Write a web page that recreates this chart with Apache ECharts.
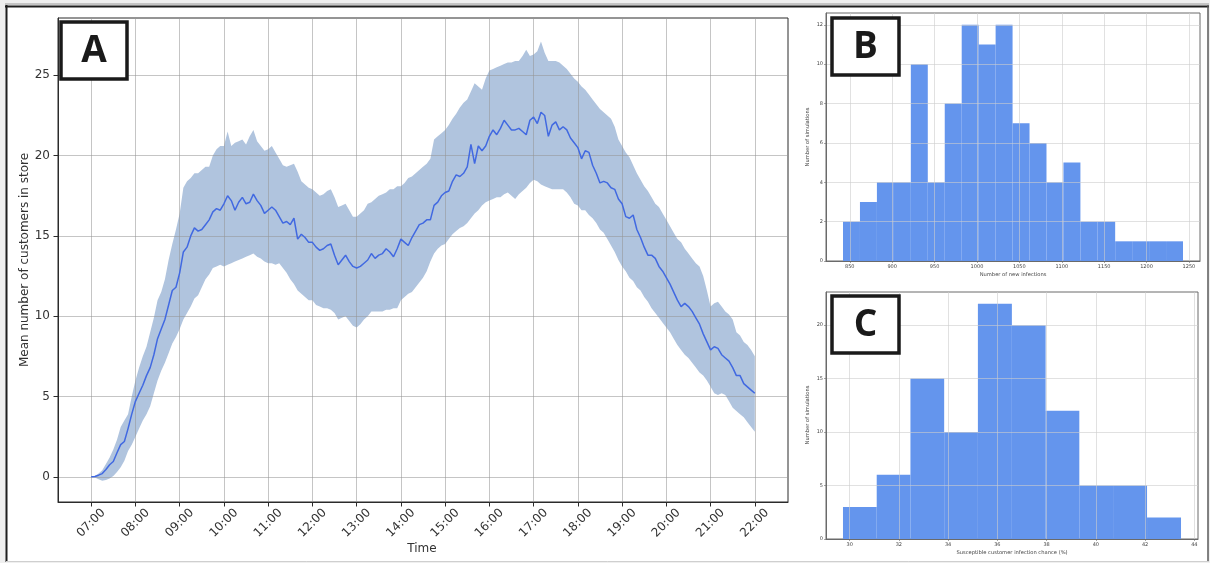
<!DOCTYPE html>
<html>
<head>
<meta charset="utf-8">
<script src="https://cdn.jsdelivr.net/npm/echarts@6/dist/echarts.min.js"></script>
<style>
  html, body { margin: 0; padding: 0; background: #efefef; }
  #chart { width: 1210px; height: 563px; }
</style>
</head>
<body>
<div id="chart"></div>
<script>
// ---- Panel A: mean customers in store, one sample every 5 minutes, 07:00 -> 22:00 ----
const START_HOUR = 7;
const STEP_MINUTES = 5;

const meanCustomers = [
  0.0, 0.02, 0.1, 0.2, 0.45, 0.75, 0.95, 1.5, 2.0, 2.2, 3.0, 3.9,
  4.7, 5.2, 5.7, 6.3, 6.8, 7.6, 8.6, 9.2, 9.8, 10.7, 11.6, 11.8,
  12.7, 14.0, 14.3, 15.0, 15.5, 15.3, 15.4, 15.7, 16.0, 16.5, 16.7, 16.6,
  17.0, 17.5, 17.2, 16.6, 17.1, 17.4, 17.0, 17.1, 17.6, 17.2, 16.9, 16.4,
  16.6, 16.8, 16.6, 16.2, 15.8, 15.9, 15.7, 16.1, 14.8, 15.1, 14.9, 14.6,
  14.6, 14.3, 14.1, 14.2, 14.4, 14.5, 13.8, 13.2, 13.5, 13.8, 13.4, 13.1,
  13.0, 13.1, 13.3, 13.5, 13.9, 13.6, 13.8, 13.9, 14.2, 14.0, 13.7, 14.2,
  14.8, 14.6, 14.4, 14.9, 15.3, 15.7, 15.8, 16.0, 16.0, 16.9, 17.1, 17.5,
  17.7, 17.8, 18.4, 18.8, 18.7, 18.9, 19.3, 20.7, 19.5, 20.6, 20.3, 20.6,
  21.2, 21.6, 21.3, 21.7, 22.2, 21.9, 21.6, 21.6, 21.7, 21.5, 21.3, 22.2,
  22.4, 22.0, 22.7, 22.5, 21.2, 21.9, 22.1, 21.6, 21.8, 21.6, 21.1, 20.8,
  20.5, 19.8, 20.3, 20.2, 19.4, 18.9, 18.3, 18.4, 18.3, 18.0, 17.9, 17.3,
  17.0, 16.2, 16.1, 16.3, 15.4, 14.9, 14.3, 13.8, 13.8, 13.6, 13.1, 12.8,
  12.4, 12.0, 11.5, 11.0, 10.6, 10.8, 10.6, 10.3, 9.9, 9.5, 8.9, 8.4,
  7.9, 8.1, 8.0, 7.6, 7.4, 7.2, 6.8, 6.3, 6.3, 5.8, 5.6, 5.4, 5.2
];

const upperBand = [
  0.0, 0.05, 0.2, 0.4, 0.8, 1.2, 1.7, 2.3, 3.1, 3.5, 3.9, 5.0,
  6.0, 6.8, 7.5, 8.1, 9.0, 9.9, 11.0, 11.5, 12.3, 13.5, 14.5, 15.4,
  16.4, 18.0, 18.4, 18.6, 18.9, 18.9, 19.1, 19.3, 19.3, 20.0, 20.4, 20.6,
  20.6, 21.5, 20.6, 20.8, 20.9, 21.0, 20.7, 21.2, 21.6, 20.9, 20.6, 20.3,
  20.4, 20.6, 20.2, 19.8, 19.4, 19.3, 19.4, 19.5, 19.0, 18.4, 18.2, 18.0,
  17.9, 17.7, 17.5, 17.6, 17.8, 17.9, 17.4, 16.8, 16.9, 17.0, 16.6, 16.2,
  16.2, 16.4, 16.6, 17.0, 17.1, 17.3, 17.5, 17.6, 17.7, 17.9, 17.9, 18.1,
  18.1, 18.3, 18.6, 18.7, 18.9, 19.1, 19.3, 19.5, 19.8, 21.0, 21.2, 21.4,
  21.6, 21.9, 22.3, 22.6, 23.0, 23.3, 23.5, 24.0, 24.5, 24.3, 24.1, 24.8,
  25.3, 25.4, 25.5, 25.6, 25.7, 25.8, 25.8, 25.9, 25.9, 26.2, 26.6, 26.2,
  26.3, 26.5, 27.1, 26.4, 25.9, 25.9, 25.9, 25.8, 25.6, 25.4, 25.1, 24.8,
  24.6, 24.3, 24.1, 23.8, 23.5, 23.2, 22.9, 22.7, 22.5, 22.3, 21.8, 21.0,
  20.6, 20.2, 19.9, 19.4, 18.9, 18.5, 18.1, 17.8, 17.4, 17.0, 16.8, 16.4,
  16.0, 15.6, 15.2, 14.8, 14.6, 14.2, 13.9, 13.6, 13.3, 13.1, 12.5, 11.6,
  10.6, 10.8, 10.9, 10.6, 10.3, 10.1, 9.8, 9.0, 8.8, 8.4, 8.2, 7.9, 7.5
];

const lowerBand = [
  0.0, -0.05, -0.15, -0.25, -0.2, -0.1, 0.05, 0.3, 0.6, 1.0, 1.6, 2.0,
  2.5, 3.0, 3.5, 3.9, 4.4, 5.2, 6.0, 6.6, 7.1, 7.7, 8.3, 8.7,
  9.2, 9.8, 10.2, 10.6, 11.1, 11.3, 11.8, 12.3, 12.6, 13.0, 13.1, 13.2,
  13.1, 13.2, 13.3, 13.4, 13.5, 13.6, 13.7, 13.8, 13.9, 13.7, 13.6, 13.4,
  13.3, 13.3, 13.2, 13.3, 13.0, 12.7, 12.3, 12.0, 11.6, 11.4, 11.2, 11.0,
  11.0, 10.7, 10.6, 10.5, 10.5, 10.4, 10.2, 9.8, 9.9, 10.0, 9.7, 9.4,
  9.3, 9.5, 9.8, 10.0, 10.3, 10.3, 10.3, 10.3, 10.4, 10.4, 10.5, 10.5,
  11.0, 11.2, 11.4, 11.5, 11.8, 12.1, 12.4, 12.8, 13.4, 13.9, 14.2, 14.4,
  14.5, 14.8, 15.1, 15.3, 15.5, 15.6, 15.8, 16.1, 16.4, 16.6, 16.9, 17.1,
  17.2, 17.3, 17.4, 17.4, 17.6, 17.7, 17.5, 17.3, 17.6, 17.8, 18.0, 18.3,
  18.5, 18.4, 18.2, 18.1, 18.0, 17.9, 17.9, 17.9, 17.9, 17.7, 17.4, 17.0,
  16.9, 16.6, 16.6, 16.3, 16.1, 15.8, 15.4, 15.2, 14.8, 14.4, 14.0, 13.5,
  13.1, 12.8, 12.4, 12.2, 11.8, 11.6, 11.2, 10.9, 10.5, 10.2, 9.9, 9.6,
  9.3, 9.0, 8.6, 8.2, 7.9, 7.6, 7.4, 7.1, 6.8, 6.5, 6.3, 6.0,
  5.6, 5.2, 5.1, 5.2, 5.1, 4.7, 4.3, 4.1, 3.9, 3.7, 3.4, 3.1, 2.8
];

const hourTicks = [7, 8, 9, 10, 11, 12, 13, 14, 15, 16, 17, 18, 19, 20, 21, 22];
const customerTicks = [0, 5, 10, 15, 20, 25];

// ---- Panel B: histogram of new infections per simulation ----
const infectionBinEdges = [842, 862, 882, 902, 922, 942, 962, 982, 1002, 1022, 1042,
  1062, 1082, 1102, 1122, 1142, 1163, 1183, 1203, 1223, 1243];
const infectionCounts = [2, 3, 4, 4, 10, 4, 8, 12, 11, 12, 7, 6, 4, 5, 2, 2, 1, 1, 1, 1];
const infectionTicks = [850, 900, 950, 1000, 1050, 1100, 1150, 1200, 1250];
const infectionCountTicks = [0, 2, 4, 6, 8, 10, 12];

// ---- Panel C: histogram of susceptible customer infection chance ----
const chanceBinEdges = [29.73, 31.10, 32.47, 33.84, 35.21, 36.59, 37.96, 39.33, 40.70, 42.08, 43.46];
const chanceCounts = [3, 6, 15, 10, 22, 20, 12, 5, 5, 2];
const chanceTicks = [30, 32, 34, 36, 38, 40, 42, 44];
const chanceCountTicks = [0, 5, 10, 15, 20];

// ------------------------------------------------------------------
const timeAt = i => START_HOUR + (i * STEP_MINUTES) / 60;
const hh = v => (v < 10 ? '0' : '') + v + ':00';

const BAR_BLUE = '#6495ED';
const BAND = '#B0C4DE';
const LINE_BLUE = '#4169E1';
const MPL_FONT = 'DejaVu Sans';

function smallAxis(gridIndex, min, max, ticks) {
  return {
    type: 'value', gridIndex, min, max, z: 3,
    axisLine: { show: true, onZero: false, lineStyle: { color: '#6a6a6a', width: 1 } },
    axisTick: { show: true, inside: false, length: 2, customValues: ticks,
      lineStyle: { color: '#6a6a6a', width: 0.6 } },
    axisLabel: { customValues: ticks, formatter: v => String(v),
      fontFamily: MPL_FONT, fontSize: 5, color: '#444', margin: 3 },
    splitLine: { show: true, lineStyle: { color: 'rgba(205,205,205,0.75)', width: 0.8 } }
  };
}

function histogram(edges, counts, axisIndex) {
  return {
    type: 'custom', xAxisIndex: axisIndex, yAxisIndex: axisIndex, z: 1,
    data: counts.map((c, i) => [edges[i], edges[i + 1], c]),
    encode: { x: [0, 1], y: 2 },
    renderItem(params, api) {
      const p0 = api.coord([api.value(0), 0]);
      const p1 = api.coord([api.value(1), api.value(2)]);
      return {
        type: 'rect',
        shape: { x: p0[0], y: p1[1], width: p1[0] - p0[0], height: p0[1] - p1[1] },
        style: { fill: BAR_BLUE }
      };
    }
  };
}

function letterBox(x, y, w, h, letter) {
  return [
    { type: 'rect', z: 100, shape: { x, y, width: w, height: h },
      style: { fill: '#fff', stroke: '#1a1a1a', lineWidth: 3.5 } },
    { type: 'text', z: 101, x: x + w / 2, y: y + h / 2 + 1,
      style: { text: letter, fontFamily: 'Open Sans', fontWeight: 'bold', fontSize: 37,
        fill: '#1a1a1a', align: 'center', verticalAlign: 'middle' } }
  ];
}

const option = {
  backgroundColor: '#efefef',
  animation: false,
  grid: [
    { left: 58, top: 18, width: 730, height: 484, show: true, backgroundColor: '#fff',
      borderColor: '#2b2b2b', borderWidth: 1, containLabel: false },
    { left: 826, top: 13, width: 374, height: 248, show: true, backgroundColor: '#fff',
      borderColor: '#6a6a6a', borderWidth: 1, containLabel: false },
    { left: 826, top: 292, width: 372, height: 247, show: true, backgroundColor: '#fff',
      borderColor: '#6a6a6a', borderWidth: 1, containLabel: false }
  ],
  xAxis: [
    {
      type: 'value', gridIndex: 0, min: 6.25, max: 22.75, z: 3,
      axisLine: { show: true, onZero: false, lineStyle: { color: '#2b2b2b', width: 1 } },
      axisTick: { show: true, inside: false, length: 4.5, customValues: hourTicks,
        lineStyle: { color: '#2b2b2b' } },
      axisLabel: { customValues: hourTicks, formatter: v => hh(v), rotate: 45,
        align: 'center', verticalAlign: 'middle', margin: 21,
        fontFamily: MPL_FONT, fontSize: 12, color: '#333' },
      splitLine: { show: true, lineStyle: { color: 'rgba(150,150,150,0.55)', width: 1 } }
    },
    smallAxis(1, 821.95, 1263.05, infectionTicks),
    smallAxis(2, 29.04, 44.15, chanceTicks)
  ],
  yAxis: [
    {
      type: 'value', gridIndex: 0, min: -1.57, max: 28.57, z: 3,
      axisLine: { show: true, onZero: false, lineStyle: { color: '#2b2b2b', width: 1 } },
      axisTick: { show: true, inside: false, length: 4.5, customValues: customerTicks,
        lineStyle: { color: '#2b2b2b' } },
      axisLabel: { customValues: customerTicks, margin: 8,
        fontFamily: MPL_FONT, fontSize: 12, color: '#333' },
      splitLine: { show: true, lineStyle: { color: 'rgba(150,150,150,0.55)', width: 1 } }
    },
    smallAxis(1, 0, 12.6, infectionCountTicks),
    smallAxis(2, 0, 23.1, chanceCountTicks)
  ],
  series: [
    {
      // spread band between lower and upper estimates
      type: 'custom', xAxisIndex: 0, yAxisIndex: 0, z: 1,
      data: [[START_HOUR, 0]],
      renderItem(params, api) {
        const pts = [];
        for (let i = 0; i < upperBand.length; i++) pts.push(api.coord([timeAt(i), upperBand[i]]));
        for (let i = lowerBand.length - 1; i >= 0; i--) pts.push(api.coord([timeAt(i), lowerBand[i]]));
        return { type: 'polygon', shape: { points: pts }, style: { fill: BAND } };
      }
    },
    {
      type: 'line', xAxisIndex: 0, yAxisIndex: 0, z: 5,
      data: meanCustomers.map((v, i) => [timeAt(i), v]),
      showSymbol: false, symbol: 'none',
      lineStyle: { color: LINE_BLUE, width: 1.5 }
    },
    histogram(infectionBinEdges, infectionCounts, 1),
    histogram(chanceBinEdges, chanceCounts, 2)
  ],
  graphic: [
    // figure frame
    { type: 'rect', z: -10, shape: { x: 7, y: 7, width: 1201, height: 554 }, style: { fill: '#fff' } },
    { type: 'line', z: 50, shape: { x1: 5, y1: 4, x2: 1209, y2: 4 }, style: { stroke: '#9a9a9a', lineWidth: 1 } },
    { type: 'line', z: 50, shape: { x1: 5, y1: 6.5, x2: 1209, y2: 6.5 }, style: { stroke: '#1e1e1e', lineWidth: 2 } },
    { type: 'line', z: 50, shape: { x1: 6.5, y1: 5, x2: 6.5, y2: 562 }, style: { stroke: '#1e1e1e', lineWidth: 2 } },
    { type: 'line', z: 50, shape: { x1: 1208, y1: 5, x2: 1208, y2: 562 }, style: { stroke: '#5a5a5a', lineWidth: 1.5 } },
    { type: 'line', z: 50, shape: { x1: 6, y1: 561.5, x2: 1209, y2: 561.5 }, style: { stroke: '#cfcfcf', lineWidth: 1 } },

    // axis titles
    { type: 'text', z: 60, x: 25, y: 260, rotation: Math.PI / 2,
      style: { text: 'Mean number of customers in store', fontFamily: MPL_FONT, fontSize: 12,
        fill: '#333', align: 'center', verticalAlign: 'middle' } },
    { type: 'text', z: 60, x: 422, y: 549,
      style: { text: 'Time', fontFamily: MPL_FONT, fontSize: 12,
        fill: '#333', align: 'center', verticalAlign: 'middle' } },
    { type: 'text', z: 60, x: 808, y: 137, rotation: Math.PI / 2,
      style: { text: 'Number of simulations', fontFamily: MPL_FONT, fontSize: 5.2,
        fill: '#444', align: 'center', verticalAlign: 'middle' } },
    { type: 'text', z: 60, x: 1013, y: 275,
      style: { text: 'Number of new infections', fontFamily: MPL_FONT, fontSize: 5.2,
        fill: '#444', align: 'center', verticalAlign: 'middle' } },
    { type: 'text', z: 60, x: 808, y: 415, rotation: Math.PI / 2,
      style: { text: 'Number of simulations', fontFamily: MPL_FONT, fontSize: 5.2,
        fill: '#444', align: 'center', verticalAlign: 'middle' } },
    { type: 'text', z: 60, x: 1012, y: 553,
      style: { text: 'Susceptible customer infection chance (%)', fontFamily: MPL_FONT, fontSize: 5.2,
        fill: '#444', align: 'center', verticalAlign: 'middle' } },

    // panel letters
    ...letterBox(61, 22, 66, 57, 'A'),
    ...letterBox(832, 18, 67, 57, 'B'),
    ...letterBox(832, 296, 67, 57, 'C')
  ]
};

const chart = echarts.init(document.getElementById('chart'), null, { renderer: 'canvas', width: 1210, height: 563 });
chart.setOption(option);
</script>
</body>
</html>
